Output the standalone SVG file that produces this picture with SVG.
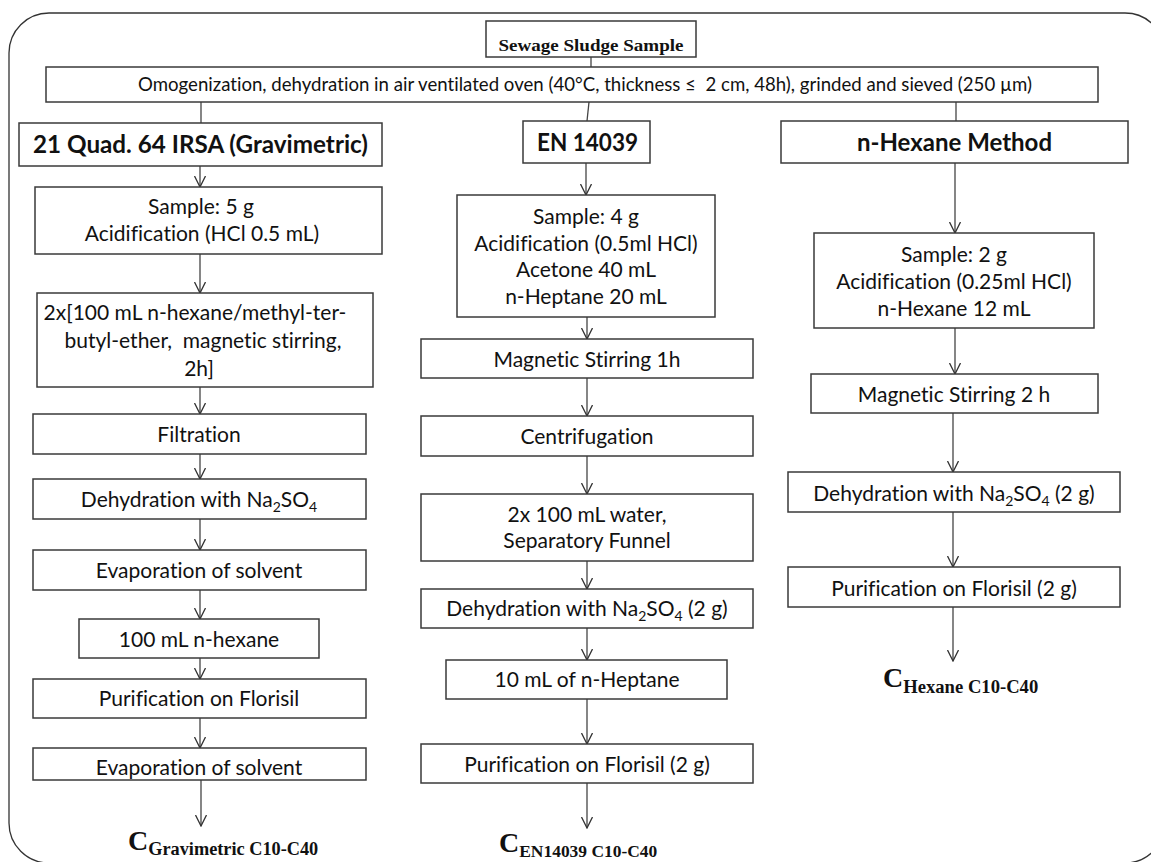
<svg xmlns="http://www.w3.org/2000/svg" width="1151" height="862" viewBox="0 0 1151 862">
<style>
text{font-variant-ligatures:none}
.box{fill:#fff;stroke:#3a3a3a;stroke-width:1.5}
.t{font-family:Lato,"Open Sans",sans-serif;font-size:21px;fill:#111;text-anchor:middle}
.h{font-family:Lato,"Open Sans",sans-serif;font-size:25px;font-weight:bold;fill:#111;text-anchor:middle}
.s{font-family:"Liberation Serif",serif;font-weight:bold;fill:#111}
.c{stroke:#444;stroke-width:1.3;fill:none}
.a{stroke:#444;stroke-width:1.3;fill:none;marker-end:url(#ah)}
</style>
<defs>
<marker id="ah" viewBox="0 0 12 12" refX="11" refY="6" markerWidth="12" markerHeight="12" orient="auto" markerUnits="userSpaceOnUse">
<path d="M0,0.5 L11,6 L0,11.5" fill="none" stroke="#333" stroke-width="1.3"/>
</marker>
</defs>
<rect id="frame" x="9" y="13" width="1156" height="850" rx="40" ry="40" fill="none" stroke="#333" stroke-width="1.3"/>

<g id="connectors">
<line class="c" x1="591" y1="57" x2="591" y2="67"/>
<line class="c" x1="201" y1="102" x2="201" y2="123"/>
<line class="c" x1="589" y1="102" x2="587" y2="121"/>
<line class="c" x1="956" y1="102" x2="956" y2="121"/>
<line class="a" x1="200" y1="166" x2="200" y2="187"/>
<line class="a" x1="200" y1="254" x2="200" y2="293"/>
<line class="a" x1="200" y1="387" x2="200" y2="414"/>
<line class="a" x1="200" y1="454" x2="200" y2="479"/>
<line class="a" x1="200" y1="519" x2="200" y2="550"/>
<line class="a" x1="200" y1="590" x2="200" y2="619"/>
<line class="a" x1="200" y1="658" x2="200" y2="679"/>
<line class="a" x1="200" y1="718" x2="200" y2="748"/>
<line class="a" x1="201" y1="780" x2="201" y2="826"/>
<line class="a" x1="586" y1="163" x2="586" y2="195"/>
<line class="a" x1="587" y1="317" x2="587" y2="339"/>
<line class="a" x1="587" y1="378" x2="587" y2="416"/>
<line class="a" x1="587" y1="456" x2="587" y2="494"/>
<line class="a" x1="587" y1="561" x2="587" y2="589"/>
<line class="a" x1="587" y1="628" x2="587" y2="660"/>
<line class="a" x1="587" y1="699" x2="587" y2="744"/>
<line class="a" x1="587" y1="783" x2="587" y2="828"/>
<line class="a" x1="955" y1="163" x2="955" y2="233"/>
<line class="a" x1="955" y1="328" x2="955" y2="374"/>
<line class="a" x1="953" y1="413" x2="953" y2="472"/>
<line class="a" x1="953" y1="512" x2="953" y2="567"/>
<line class="a" x1="953" y1="607" x2="953" y2="661"/>
</g>

<g id="sewage">
<rect class="box" x="486" y="21" width="210" height="36"/>
<text class="s" x="591" y="51" font-size="16.5" text-anchor="middle" textLength="185" lengthAdjust="spacingAndGlyphs">Sewage Sludge Sample</text>
</g>
<g id="omog">
<rect class="box" x="46" y="67" width="1052" height="35"/>
<text class="t" x="138" y="91" style="text-anchor:start;font-size:19px" textLength="894" lengthAdjust="spacingAndGlyphs">Omogenization, dehydration in air ventilated oven (40°C, thickness ≤&#160; 2 cm, 48h), grinded and sieved (250 µm)</text>
</g>

<g id="h1">
<rect class="box" x="19" y="123" width="363" height="43"/>
<text class="h" x="200.5" y="153" textLength="335" lengthAdjust="spacingAndGlyphs">21 Quad. 64 IRSA (Gravimetric)</text>
</g>
<g id="l1">
<rect class="box" x="35" y="187" width="347" height="67"/>
<text class="t" x="201" y="214">Sample: 5 g</text>
<text class="t" x="202" y="241">Acidification (HCl 0.5 mL)</text>
</g>
<g id="l2">
<rect class="box" x="37" y="293" width="336" height="94"/>
<text class="t" x="195" y="320">2x[100 mL n-hexane/methyl-ter-</text>
<text class="t" x="203" y="348">butyl-ether,&#160; magnetic stirring,</text>
<text class="t" x="199" y="376">2h]</text>
</g>
<g id="l3">
<rect class="box" x="33" y="414" width="333" height="40"/>
<text class="t" x="199" y="442">Filtration</text>
</g>
<g id="l4">
<rect class="box" x="33" y="479" width="333" height="40"/>
<text class="t" x="199" y="507">Dehydration with Na<tspan font-size="14" dy="5">2</tspan><tspan dy="-5">SO</tspan><tspan font-size="14" dy="5">4</tspan></text>
</g>
<g id="l5">
<rect class="box" x="33" y="550" width="333" height="40"/>
<text class="t" x="199" y="578">Evaporation of solvent</text>
</g>
<g id="l6">
<rect class="box" x="79" y="619" width="240" height="39"/>
<text class="t" x="199" y="647">100 mL n-hexane</text>
</g>
<g id="l7">
<rect class="box" x="33" y="679" width="333" height="39"/>
<text class="t" x="199" y="706">Purification on Florisil</text>
</g>
<g id="l8">
<rect class="box" x="33" y="748" width="333" height="32"/>
<text class="t" x="199" y="775">Evaporation of solvent</text>
</g>
<g id="lres">
<text class="s" x="128" y="850" font-size="28">C<tspan font-size="18.5" dy="5" textLength="170" lengthAdjust="spacingAndGlyphs">Gravimetric C10-C40</tspan></text>
</g>

<g id="h2">
<rect class="box" x="523" y="121" width="127" height="42"/>
<text class="h" x="587.5" y="151" textLength="101" lengthAdjust="spacingAndGlyphs">EN 14039</text>
</g>
<g id="m1">
<rect class="box" x="457" y="195" width="258" height="122"/>
<text class="t" x="586" y="224">Sample: 4 g</text>
<text class="t" x="586" y="251">Acidification (0.5ml HCl)</text>
<text class="t" x="586" y="277">Acetone 40 mL</text>
<text class="t" x="586" y="304">n-Heptane 20 mL</text>
</g>
<g id="m2">
<rect class="box" x="421" y="339" width="332" height="39"/>
<text class="t" x="587" y="367">Magnetic Stirring 1h</text>
</g>
<g id="m3">
<rect class="box" x="421" y="416" width="332" height="40"/>
<text class="t" x="587" y="444">Centrifugation</text>
</g>
<g id="m4">
<rect class="box" x="421" y="494" width="332" height="67"/>
<text class="t" x="587" y="522">2x 100 mL water,</text>
<text class="t" x="587" y="548">Separatory Funnel</text>
</g>
<g id="m5">
<rect class="box" x="421" y="589" width="332" height="39"/>
<text class="t" x="587" y="616">Dehydration with Na<tspan font-size="14" dy="5">2</tspan><tspan dy="-5">SO</tspan><tspan font-size="14" dy="5">4</tspan><tspan dy="-5"> (2 g)</tspan></text>
</g>
<g id="m6">
<rect class="box" x="446" y="660" width="281" height="39"/>
<text class="t" x="587" y="687">10 mL of n-Heptane</text>
</g>
<g id="m7">
<rect class="box" x="421" y="744" width="332" height="39"/>
<text class="t" x="587" y="772">Purification on Florisil (2 g)</text>
</g>
<g id="mres">
<text class="s" x="499" y="852" font-size="28">C<tspan font-size="17.5" dy="5" textLength="138" lengthAdjust="spacingAndGlyphs">EN14039 C10-C40</tspan></text>
</g>

<g id="h3">
<rect class="box" x="781" y="121" width="347" height="42"/>
<text class="h" x="954.5" y="151" textLength="195" lengthAdjust="spacingAndGlyphs">n-Hexane Method</text>
</g>
<g id="r1">
<rect class="box" x="814" y="233" width="280" height="95"/>
<text class="t" x="954" y="262">Sample: 2 g</text>
<text class="t" x="954" y="289">Acidification (0.25ml HCl)</text>
<text class="t" x="954" y="316">n-Hexane 12 mL</text>
</g>
<g id="r2">
<rect class="box" x="811" y="374" width="287" height="39"/>
<text class="t" x="954" y="402">Magnetic Stirring 2 h</text>
</g>
<g id="r3">
<rect class="box" x="788" y="472" width="332" height="40"/>
<text class="t" x="954" y="501">Dehydration with Na<tspan font-size="14" dy="5">2</tspan><tspan dy="-5">SO</tspan><tspan font-size="14" dy="5">4</tspan><tspan dy="-5"> (2 g)</tspan></text>
</g>
<g id="r4">
<rect class="box" x="788" y="567" width="332" height="40"/>
<text class="t" x="954" y="596">Purification on Florisil (2 g)</text>
</g>
<g id="rres">
<text class="s" x="883" y="687" font-size="28">C<tspan font-size="18.5" dy="6" textLength="135" lengthAdjust="spacingAndGlyphs">Hexane C10-C40</tspan></text>
</g>
</svg>
